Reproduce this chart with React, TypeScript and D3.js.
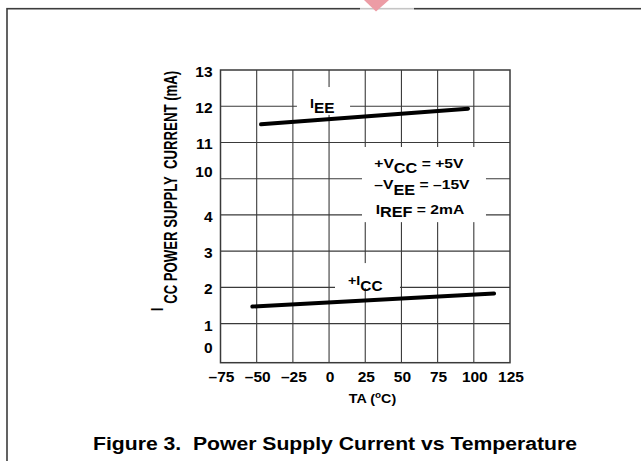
import React from 'react';
import * as d3 from 'd3';

// axis ticks
const tempTicks = [-75, -50, -25, 0, 25, 50, 75, 100, 125];
const currentTicks = [0, 1, 2, 3, 4, 10, 11, 12, 13];

// I_EE curve (end points)
const ieeTemp = [-47, 96];
const ieeCurrent = [11.5, 11.93];

// +I_CC curve
const iccTemp = [-53, 114];
const iccCurrent = [1.47, 1.83];

const W = 641;
const H = 461;
const plot = { left: 220.5, right: 510, top: 70, bottom: 362.7 };

// the y axis is broken between 4 and 10 mA, so 10..13 sit one step above 4
const toUnit = (v: number) => (v >= 10 ? v - 5 : v);

const x = d3.scaleLinear().domain([-75, 125]).range([plot.left, plot.right]);
const yU = d3.scaleLinear().domain([-0.08, 8]).range([plot.bottom, plot.top]);
const y = (v: number) => yU(toUnit(v));

const fmtTemp = (t: number) => (t < 0 ? '\u2013' + Math.abs(t) : String(t));

// text stretched a bit wider, like the scanned figure
function Txt({ x, y, sx = 1.1, size = 14, anchor = 'start', rot = false, children }: any) {
  return (
    <text
      transform={`translate(${x},${y}) scale(${sx},1)${rot ? ' rotate(-90)' : ''}`}
      textAnchor={anchor}
      fontSize={size}
      style={{ whiteSpace: 'pre' }}
    >
      {children}
    </text>
  );
}

export default function App() {
  const line = d3.line<[number, number]>().x(d => x(d[0])).y(d => y(d[1]));
  const iee = ieeTemp.map((t, i) => [t, ieeCurrent[i]] as [number, number]);
  const icc = iccTemp.map((t, i) => [t, iccCurrent[i]] as [number, number]);

  const gridX = tempTicks.slice(1, -1);
  const gridY = currentTicks.slice(1, -1);

  // white boxes behind the in-plot labels (they cut the grid)
  const ieeBox = { x0: x(-22.2), x1: x(14.5), y0: yU(7.53), y1: yU(6.76) };
  const iccBox = { x0: x(4.1), x1: x(49), y0: yU(2.67), y1: yU(1.98) };
  const legBox = { x0: x(22.75), x1: x(108.4), y0: yU(5.875), y1: yU(3.8) };

  return (
    <svg
      width={W}
      height={H}
      style={{ position: 'absolute', left: 0, top: 0, background: '#fff' }}
      fontFamily="'Liberation Sans', Arial, Helvetica, sans-serif"
      fontWeight="bold"
    >
      {/* outer frame */}
      <rect x={7} y={8.7} width={700} height={500} fill="none" stroke="#3c3c3c" strokeWidth={1.6} />
      <rect x={360} y={6} width={54} height={6} fill="#fff" opacity={0.7} />
      <polygon points="364,0 389,0 376,11.5" fill="#ec9ca5" />

      {/* grid */}
      <g stroke="#3a3a3a" strokeWidth={1.1}>
        {gridX.map(t => (
          <line key={'gx' + t} x1={x(t)} x2={x(t)} y1={plot.top} y2={plot.bottom} />
        ))}
        {gridY.map(v => (
          <line key={'gy' + v} x1={plot.left} x2={plot.right} y1={y(v)} y2={y(v)} />
        ))}
      </g>
      <rect
        x={plot.left}
        y={plot.top}
        width={plot.right - plot.left}
        height={plot.bottom - plot.top}
        fill="none"
        stroke="#3a3a3a"
        strokeWidth={1.5}
      />

      {[ieeBox, iccBox, legBox].map((b, i) => (
        <rect key={'b' + i} x={b.x0} y={b.y0} width={b.x1 - b.x0} height={b.y1 - b.y0} fill="#fff" />
      ))}

      {/* curves */}
      <path d={line(iee) || ''} fill="none" stroke="#000" strokeWidth={4} strokeLinecap="round" />
      <path d={line(icc) || ''} fill="none" stroke="#000" strokeWidth={4} strokeLinecap="round" />

      {/* curve labels */}
      <Txt x={ieeBox.x0 + 13} y={108.3} size={13}>
        I<tspan fontSize={14} dy={5}>EE</tspan>
      </Txt>
      <Txt x={iccBox.x0 + 13} y={285} size={13}>
        +I<tspan fontSize={14} dy={5.7}>CC</tspan>
      </Txt>

      {/* conditions */}
      <Txt x={legBox.x0 + 12.3} y={168.3} size={13.5} sx={1.16}>
        +V<tspan fontSize={14} dy={4.4}>CC</tspan>
        <tspan dy={-4.4}> = +5V</tspan>
      </Txt>
      <Txt x={legBox.x0 + 12.3} y={189.3} size={13.5} sx={1.16}>
        {'\u2013'}V<tspan fontSize={14} dy={5.2}>EE</tspan>
        <tspan dy={-5.2}> = {'\u2013'}15V</tspan>
      </Txt>
      <Txt x={legBox.x0 + 13.7} y={214} size={13.5} sx={1.16}>
        I<tspan fontSize={14} dy={3}>REF</tspan>
        <tspan dy={-3}> = 2mA</tspan>
      </Txt>

      {/* x tick labels */}
      {tempTicks.map(t => (
        <Txt key={'tx' + t} x={x(t) + 1} y={381.5} size={14.5} sx={1.07} anchor="middle">
          {fmtTemp(t)}
        </Txt>
      ))}

      {/* y tick labels: 10 and 0 sit a little higher in the original */}
      {currentTicks.map(v => {
        const lift = v === 10 ? 9 : v === 0 ? 14 : 0;
        return (
          <Txt key={'ty' + v} x={212.5} y={y(v) + 7 - lift} size={14.5} sx={1.07} anchor="end">
            {v}
          </Txt>
        );
      })}

      {/* axis titles */}
      <Txt x={372.5} y={403} size={13} sx={1.1} anchor="middle">
        TA (<tspan fontSize={9} dy={-5}>o</tspan>
        <tspan dy={5}>C)</tspan>
      </Txt>
      <Txt x={176.5} y={311} size={13.2} sx={1.45} rot>
        <tspan fontSize={12} dy={-9.5}>I</tspan>
        <tspan fontSize={13} dy={9.5} dx={4}>CC</tspan>
        <tspan> POWER SUPPLY  CURRENT (mA)</tspan>
      </Txt>

      {/* caption */}
      <text x={93} y={450} fontSize={18} textLength={484} lengthAdjust="spacingAndGlyphs" style={{ whiteSpace: 'pre' }}>
        Figure 3.  Power Supply Current vs Temperature
      </text>
    </svg>
  );
}
